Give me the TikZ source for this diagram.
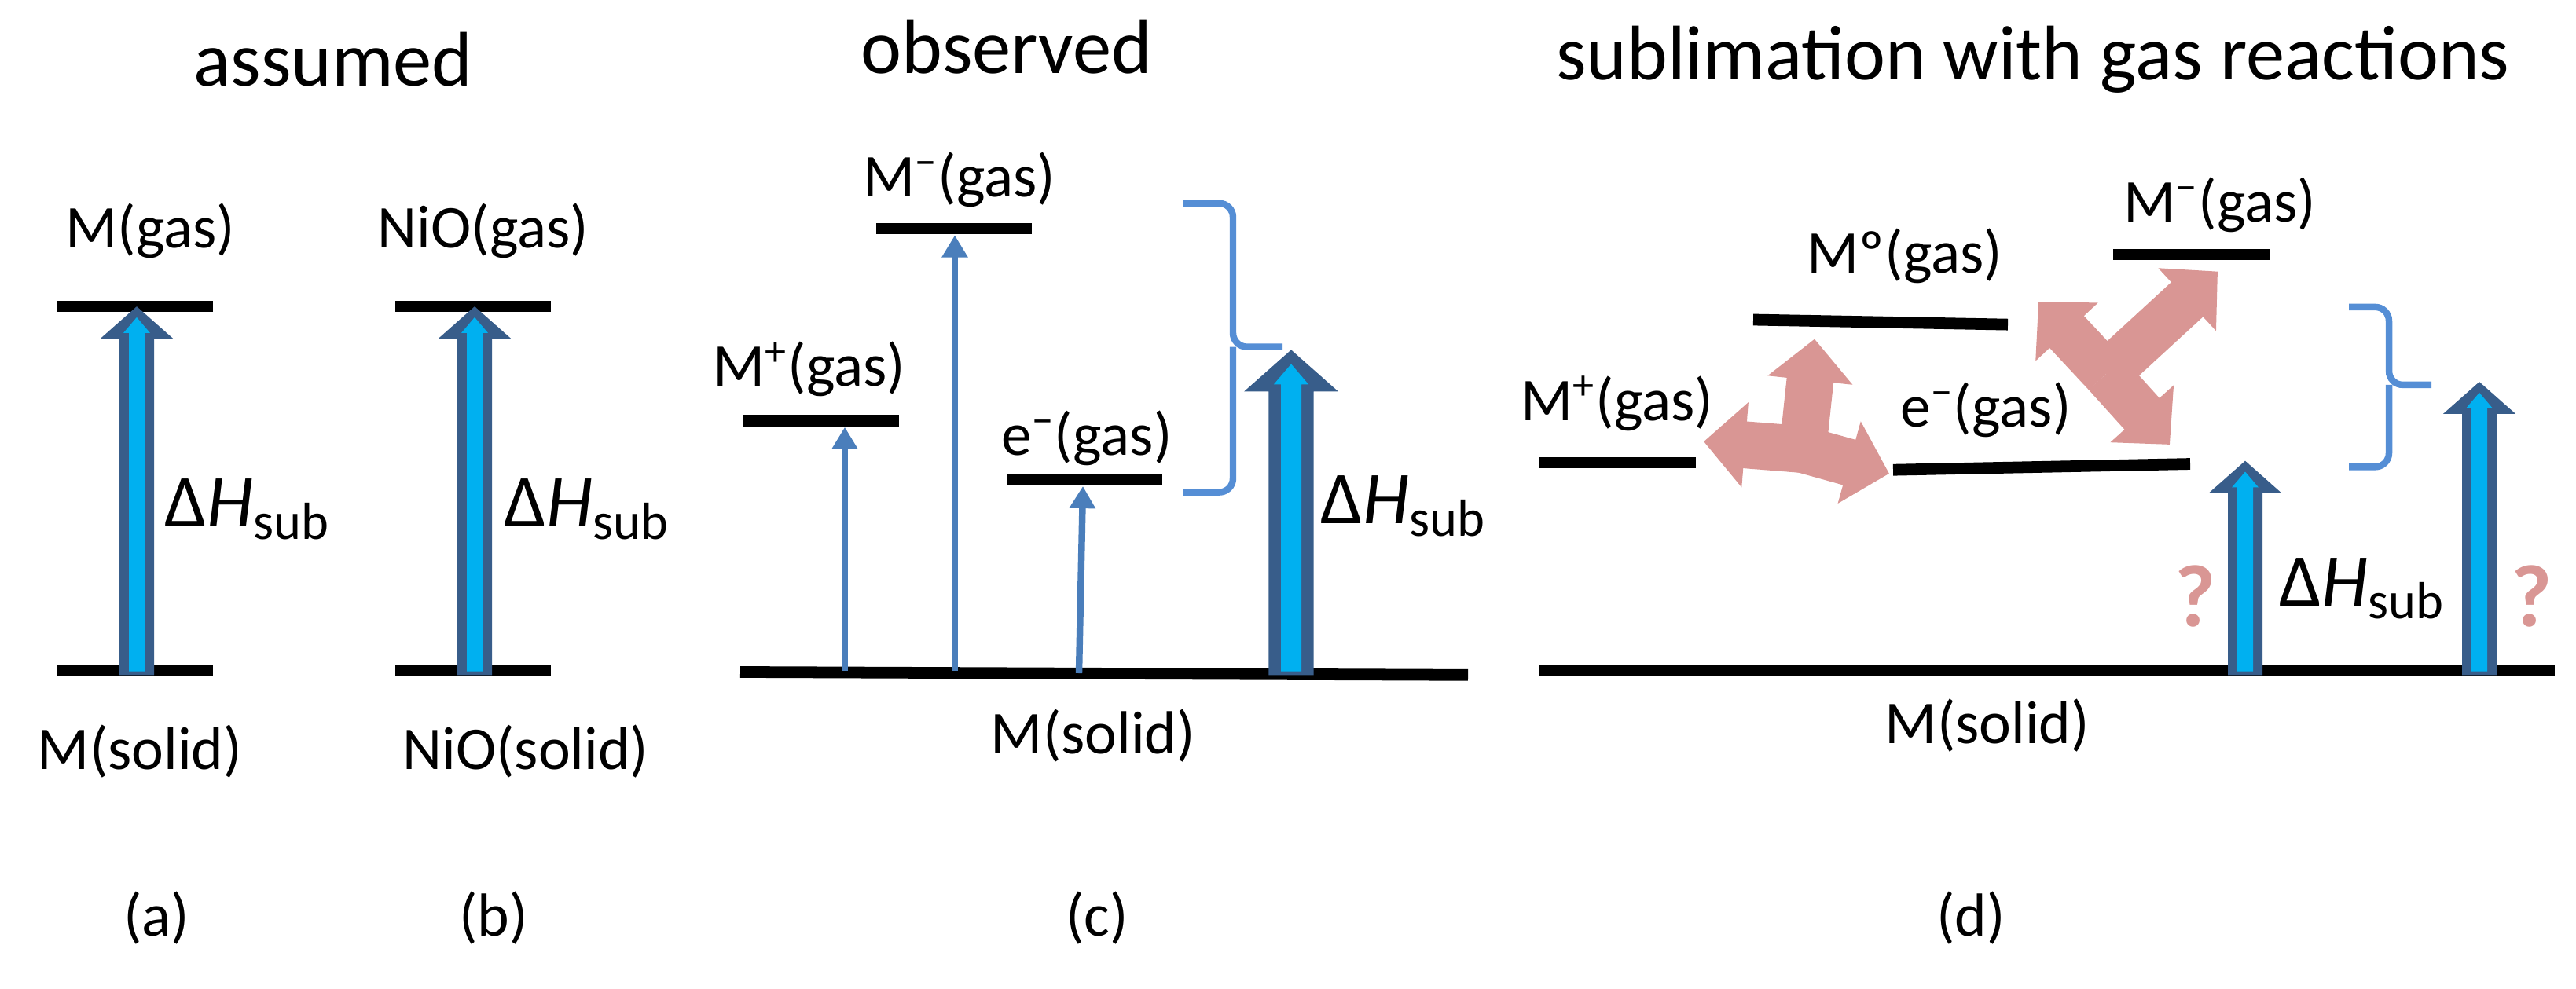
\documentclass[tikz,border=0pt]{standalone}
\usepackage{fontspec}
\setmainfont{Carlito}
\usetikzlibrary{arrows.meta}
\definecolor{arrdark}{HTML}{385D8A}
\definecolor{arrcyan}{HTML}{00B0F0}
\definecolor{thinblue}{HTML}{4A7EBB}
\definecolor{bracec}{HTML}{558ED5}
\definecolor{pinkc}{HTML}{D99694}
\newcommand\dH{Δ\textit{H}\textsubscript{sub}}
\newcommand\bigarr[4]{%
 \fill[arrdark] (#1-22*#4,#2) -- (#1-22*#4,#3+53*#4) -- (#1-46*#4,#3+53*#4) -- (#1,#3) -- (#1+46*#4,#3+53*#4) -- (#1+22*#4,#3+53*#4) -- (#1+22*#4,#2) -- cycle;
 \fill[arrcyan] (#1-10*#4,#2-6) -- (#1-10*#4,#3+44*#4) -- (#1-17*#4,#3+44*#4) -- (#1,#3+18*#4) -- (#1+17*#4,#3+44*#4) -- (#1+10*#4,#3+44*#4) -- (#1+10*#4,#2-6) -- cycle;}
\tikzset{
 level/.style={line width=4.2pt},
 lbl/.style={font=\fontsize{22}{26}\selectfont, inner sep=0pt},
 ttl/.style={font=\fontsize{28}{32}\selectfont, inner sep=0pt},
 dh/.style={font=\fontsize{27}{30}\selectfont, inner sep=0pt, anchor=base west},
 thin/.style={thinblue, line width=2.4pt, -{Triangle[width=9pt,length=8pt]}},
 brc/.style={bracec, line width=2.4pt, rounded corners=5pt},
 pk/.style={pinkc, line width=17pt, -{Triangle[width=30pt,length=15pt]}},
 q/.style={pinkc, font=\fontsize{32}{36}\selectfont\bfseries, inner sep=0pt}
}
\begin{document}
\begin{tikzpicture}[x=0.01cm,y=-0.00767cm]
\useasboundingbox (0,0) rectangle (3278,1639);
% titles
\node[ttl] (t1) at (424,99) {assumed};
\node[ttl] (t2) at (1281,78) {observed};
\node[ttl] (t3) at (2587,99) {sublimation with gas reactions};
% (a)
\draw[level] (72,508) -- (271,508);
\draw[level] (72,1112) -- (271,1112);
\bigarr{174}{1119}{508}{1}
\node[lbl] (la1) at (191,382) {M(gas)};
\node[lbl] (la2) at (178,1245) {M(solid)};
\node[dh] (dha) at (209,873) {\dH};
\node[lbl] (pa) at (199,1522) {(a)};
% (b)
\draw[level] (503,508) -- (701,508);
\draw[level] (503,1112) -- (701,1112);
\bigarr{604}{1119}{508}{1}
\node[lbl] (lb1) at (615,382) {NiO(gas)};
\node[lbl] (lb2) at (669,1245) {NiO(solid)};
\node[dh] (dhb) at (641,873) {\dH};
\node[lbl] (pb) at (628,1522) {(b)};
% (c)
\draw[level] (942,1114) -- (1868,1119);
\draw[level] (946,697) -- (1144,697);
\draw[level] (1115,379) -- (1313,379);
\draw[level] (1281,795) -- (1479,795);
\coordinate (cpt) at (1075,708);
\coordinate (cmt) at (1215,390);
\coordinate (cet) at (1378,806);
\draw[thin] (1075,1112) -- (cpt);
\draw[thin] (1215,1112) -- (cmt);
\draw[thin] (1373,1116) -- (cet);
\node[lbl] (lc1) at (1030,612) {M\textsuperscript{+}(gas)};
\node[lbl] (lc2) at (1221,298) {M\textsuperscript{−}(gas)};
\node[lbl] (lc3) at (1383,727) {e\textsuperscript{−}(gas)};
\node[lbl] (lc4) at (1391,1219) {M(solid)};
\draw[brc] (1506,337) -| (1569,575) -- (1632,575) (1569,575) |- (1506,816);
\bigarr{1643}{1119}{580}{1.3}
\node[dh] (dhc) at (1680,868) {\dH};
\node[lbl] (pc) at (1396,1522) {(c)};
% (d)
\draw[level] (1959,1112) -- (3251,1112);
\draw[level] (1959,767) -- (2158,767);
\draw[level] (2231,530) -- (2555,538);
\draw[level] (2689,422) -- (2888,422);
\draw[level] (2409,779) -- (2787,769);
\node[lbl] (ld1) at (2058,669) {M\textsuperscript{+}(gas)};
\node[lbl] (ld2) at (2424,424) {Mº(gas)};
\node[lbl] (ld3) at (2825,340) {M\textsuperscript{−}(gas)};
\node[lbl] (ld4) at (2527,680) {e\textsuperscript{−}(gas)};
\node[lbl] (ld5) at (2529,1203) {M(solid)};
\coordinate (j1) at (2294,745);
\draw[pk] (j1) -- (2309,562);
\draw[pk] (j1) -- (2168,732);
\draw[pk] (j1) -- (2404,785);
\coordinate (j2) at (2680,620);
\draw[pk] (j2) -- (2594,500);
\draw[pk] (j2) -- (2761,737);
\draw[pk] (j2) -- (2822,450);
\draw[brc] (2989,509) -| (3040,638) -- (3094,638) (3040,638) |- (2989,774);
\bigarr{2857}{1119}{764}{1}
\bigarr{3155}{1119}{633}{1}
\node[dh] (dhd) at (2900,1004) {\dH};
\node[q] (q1) at (2794,988) {?};
\node[q] (q2) at (3222,988) {?};
\node[lbl] (pd) at (2508,1522) {(d)};
\end{tikzpicture}
\end{document}
